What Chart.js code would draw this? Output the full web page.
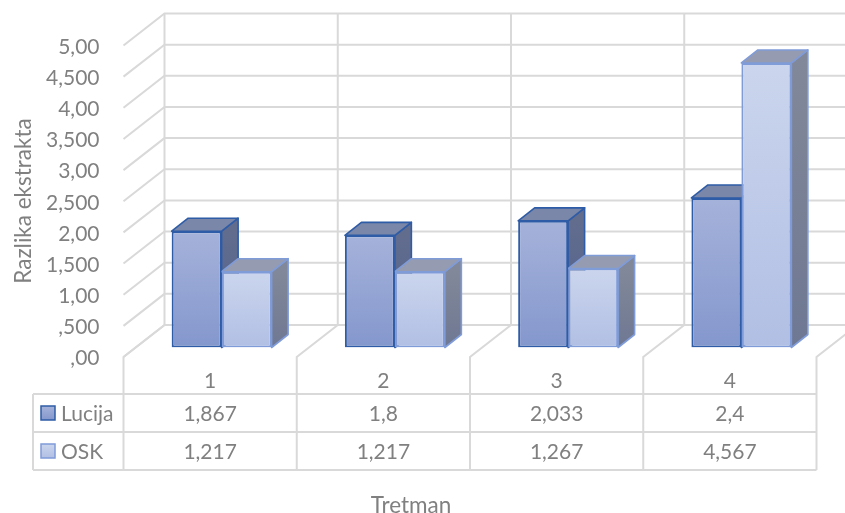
<!DOCTYPE html>
<html><head><meta charset="utf-8">
<style>html,body{margin:0;padding:0;background:#fff}canvas{display:block}</style>
<script src="https://cdn.jsdelivr.net/npm/chart.js@4"></script>
</head><body>
<canvas id="c" width="845" height="513"></canvas>
<script>
const categories = ['1','2','3','4'];
const lucija = [1.867,1.8,2.033,2.4];
const osk = [1.217,1.217,1.267,4.567];
const yTickLabels = [',00',',500','1,00','1,500','2,00','2,500','3,00','3,500','4,00','4,500','5,00'];
const seriesNames = ['Lucija','OSK'];
const axisX = 'Tretman';
const axisY = 'Razlika ekstrakta';

const FONT = 'Lato, Carlito, sans-serif';
const FS = 21, TITLE_FS = 22.5;
const TXT = '#808080', GRID = '#d9d9d9';
const WALL = {dx:29.5, dy:-22.5}, FRONT = {dx:-11.5, dy:9.5}, BAR = {dx:16.5, dy:-13};
const ROWS = [394,432,470], TABLE_LEFT = 33;
const looks = [
  {top:'#a5b2da', bot:'#8497cd', edge:'#2f5ca6', side:'#626d8e', side2:'#4f5f8c', cap:'#7a87a9'},
  {top:'#cbd5ed', bot:'#b1bfe4', edge:'#7f9bd8', side:'#818899', side2:'#6f7893', cap:'#959cb1'}
];
const fmt = v => String(v).replace('.',',');

const ctx = document.getElementById('c').getContext('2d');
function grad(c, i){
  const chart = c.chart, l = looks[i], y = chart.scales.y;
  if(!chart.chartArea || !y || c.raw === undefined) return l.top;
  const g = chart.ctx.createLinearGradient(0,y.getPixelForValue(c.raw),0,y.getPixelForValue(0));
  g.addColorStop(0,l.top); g.addColorStop(1,l.bot);
  return g;
}
const scenery = {
  id:'scenery',
  beforeDatasetsDraw(chart){
    const g = chart.ctx, x = chart.scales.x, y = chart.scales.y;
    const band = (x.getPixelForValue(1)-x.getPixelForValue(0));
    const edge = i => x.getPixelForValue(0) - band/2 + i*band;
    g.save();
    g.strokeStyle = GRID; g.lineWidth = 2; g.lineCap='butt';
    const line = pts => {g.beginPath(); pts.forEach((p,k)=>k?g.lineTo(p[0],p[1]):g.moveTo(p[0],p[1])); g.stroke();};
    // back wall + side wall gridlines
    yTickLabels.forEach((_,k)=>{
      const v = k/2, py = y.getPixelForValue(v);
      line([[edge(0)+FRONT.dx,py+FRONT.dy],[edge(0)+WALL.dx,py+WALL.dy],[edge(4)+WALL.dx,py+WALL.dy]]);
    });
    // vertical wall lines, floor diagonals, table verticals
    for(let i=0;i<=4;i++){
      const ex = edge(i);
      line([[ex+WALL.dx,y.getPixelForValue(5)+WALL.dy],[ex+WALL.dx,y.getPixelForValue(0)+WALL.dy],[ex+FRONT.dx,y.getPixelForValue(0)+FRONT.dy],[ex+FRONT.dx,ROWS[2]]]);
    }
    // table horizontals and left side
    ROWS.forEach(r=>line([[TABLE_LEFT,r],[edge(4)+FRONT.dx,r]]));
    line([[TABLE_LEFT,ROWS[0]],[TABLE_LEFT,ROWS[2]]]);
    // table text
    g.fillStyle = TXT; g.textBaseline='middle'; g.textAlign='center';
    g.font = FS+'px '+FONT;
    [lucija,osk].forEach((vals,r)=>{
      const cy = (ROWS[r]+ROWS[r+1])/2+1;
      vals.forEach((v,i)=>g.fillText(fmt(v), x.getPixelForValue(i)+FRONT.dx, cy));
      g.textAlign='left';
      g.fillText(seriesNames[r], 61, cy);
      g.textAlign='center';
      const l = looks[r], ky = cy-8;
      const kg = g.createLinearGradient(0,ky,0,ky+14);
      kg.addColorStop(0,l.top); kg.addColorStop(1,l.bot);
      g.fillStyle = kg; g.strokeStyle = l.edge; g.lineWidth=1.5;
      g.fillRect(41,ky,14,14); g.strokeRect(41,ky,14,14);
      g.fillStyle = TXT;
    });
    // axis titles
    g.font = TITLE_FS+'px '+FONT;
    g.fillText(axisX, 411, 506);
    g.save(); g.translate(24,201); g.rotate(-Math.PI/2);
    g.fillText(axisY,0,0); g.restore();
    // 3D faces of bars: first series first so the second overlaps it
    [0,1].forEach(s=>{
      const l = looks[s];
      chart.getDatasetMeta(s).data.forEach(el=>{
        const xl = el.x-el.width/2, xr = el.x+el.width/2, t = el.y, b = el.base;
        g.lineWidth = 1.6; g.strokeStyle = l.edge; g.lineJoin='round';
        const sg = g.createLinearGradient(0,t,0,b);
        sg.addColorStop(0,l.side); sg.addColorStop(1,l.side2);
        g.fillStyle = sg;
        g.beginPath(); g.moveTo(xr,t); g.lineTo(xr+BAR.dx,t+BAR.dy); g.lineTo(xr+BAR.dx,b+BAR.dy); g.lineTo(xr,b); g.closePath(); g.fill(); g.stroke();
        g.fillStyle = l.cap;
        g.beginPath(); g.moveTo(xl,t); g.lineTo(xl+BAR.dx,t+BAR.dy); g.lineTo(xr+BAR.dx,t+BAR.dy); g.lineTo(xr,t); g.closePath(); g.fill(); g.stroke();
      });
    });
    g.restore();
  }
};
const chart = new Chart(ctx,{
  type:'bar',
  data:{labels:categories,datasets:[
    {label:seriesNames[0],data:lucija,borderWidth:2,borderSkipped:false,borderColor:looks[0].edge,backgroundColor:c=>grad(c,0)},
    {label:seriesNames[1],data:osk,borderWidth:2,borderSkipped:false,borderColor:looks[1].edge,backgroundColor:c=>grad(c,1)}
  ]},
  plugins:[scenery],
  options:{
    responsive:false,animation:false,
    layout:{autoPadding:false,padding:{top:36,right:17,left:0,bottom:0}},
    datasets:{bar:{categoryPercentage:0.577,barPercentage:1}},
    plugins:{legend:{display:false},tooltip:{enabled:false},title:{display:false}},
    scales:{
      x:{
        grid:{display:false,drawTicks:false},border:{display:false},
        afterFit:s=>{s.height=165.5;s.paddingLeft=0;s.paddingRight=0},
        ticks:{color:TXT,font:{family:FONT,size:FS},padding:21.5,labelOffset:FRONT.dx,maxRotation:0}
      },
      y:{
        min:0,max:5,
        grid:{display:false,drawTicks:false},border:{display:false},
        afterFit:s=>{s.width=135;s.paddingTop=0;s.paddingBottom=0},
        ticks:{stepSize:0.5,color:TXT,font:{family:FONT,size:FS},padding:35.5,labelOffset:11,
          callback:v=>yTickLabels[Math.round(v*2)]}
      }
    }
  }
});
</script>
</body></html>
